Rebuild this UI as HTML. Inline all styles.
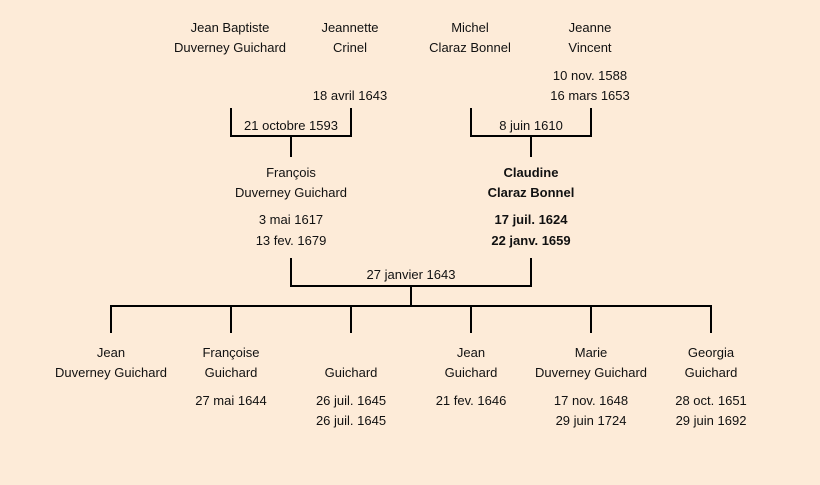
<!DOCTYPE html>
<html><head><meta charset="utf-8"><style>
html,body{margin:0;padding:0;background:#fdebd8;}
svg{display:block}
text{font-family:"Liberation Sans",sans-serif;font-size:13px;fill:#111;text-anchor:middle}
.b{font-weight:bold}
</style></head><body>
<svg width="820" height="485" viewBox="0 0 820 485">
<rect width="820" height="485" fill="#fdebd8"/>
<g stroke="#000" stroke-width="2" fill="none">
<path d="M231 108V136H351V108M291 136V157"/>
<path d="M471 108V136H591V108M531 136V157"/>
<path d="M291 258V286H531V258M411 286V305"/>
<path d="M111 333V306H711V333M231 306V333M351 306V333M471 306V333M591 306V333"/>
</g>
<g>
<text x="230" y="32">Jean Baptiste</text><text x="230" y="52">Duverney Guichard</text>
<text x="350" y="32">Jeannette</text><text x="350" y="52">Crinel</text>
<text x="350" y="100">18 avril 1643</text>
<text x="470" y="32">Michel</text><text x="470" y="52">Claraz Bonnel</text>
<text x="590" y="32">Jeanne</text><text x="590" y="52">Vincent</text>
<text x="590" y="80">10 nov. 1588</text><text x="590" y="100">16 mars 1653</text>
<text x="291" y="130">21 octobre 1593</text>
<text x="531" y="130">8 juin 1610</text>
<text x="291" y="177">François</text><text x="291" y="197">Duverney Guichard</text>
<text x="291" y="224">3 mai 1617</text><text x="291" y="245">13 fev. 1679</text>
<text class="b" x="531" y="177">Claudine</text><text class="b" x="531" y="197">Claraz Bonnel</text>
<text class="b" x="531" y="224">17 juil. 1624</text><text class="b" x="531" y="245">22 janv. 1659</text>
<text x="411" y="279">27 janvier 1643</text>
<text x="111" y="357">Jean</text><text x="111" y="377">Duverney Guichard</text>
<text x="231" y="357">Françoise</text><text x="231" y="377">Guichard</text>
<text x="231" y="405">27 mai 1644</text>
<text x="351" y="377">Guichard</text>
<text x="351" y="405">26 juil. 1645</text><text x="351" y="425">26 juil. 1645</text>
<text x="471" y="357">Jean</text><text x="471" y="377">Guichard</text>
<text x="471" y="405">21 fev. 1646</text>
<text x="591" y="357">Marie</text><text x="591" y="377">Duverney Guichard</text>
<text x="591" y="405">17 nov. 1648</text><text x="591" y="425">29 juin 1724</text>
<text x="711" y="357">Georgia</text><text x="711" y="377">Guichard</text>
<text x="711" y="405">28 oct. 1651</text><text x="711" y="425">29 juin 1692</text>
</g>
</svg>
</body></html>
